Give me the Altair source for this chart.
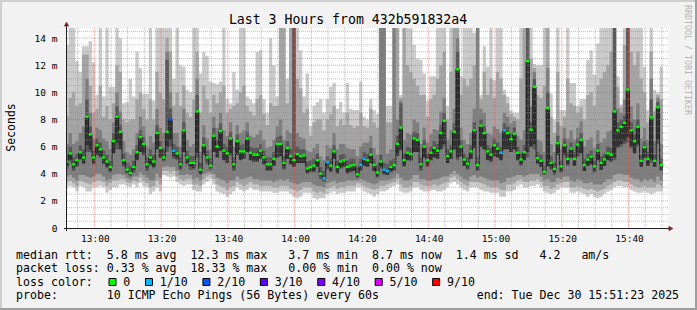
import altair as alt
import pandas as pd

# ---------------- data (milliseconds, one value per 1-minute step) ----------------
median = [
    4.9, 5.5, 4.7, 5.0, 5.6, 5.2, 8.2, 6.9, 5.2, 6.1,
    5.8, 5.2, 4.9, 4.5, 6.4, 8.2, 7.1, 5.0, 4.3, 4.05,
    4.5, 5.6, 6.7, 6.2, 4.7, 5.2, 4.9, 7.0, 5.9, 5.2,
    7.1, 8.0, 5.7, 5.5, 4.7, 7.2, 5.2, 4.8, 4.8, 8.6,
    4.3, 6.1, 5.2, 4.6, 6.8, 6.0, 7.15, 5.7, 5.5, 6.6,
    4.7, 6.4, 5.65, 5.65, 6.6, 5.55, 5.4, 5.4, 5.7, 5.2,
    4.7, 4.7, 5.1, 6.2, 6.2, 4.8, 5.9, 5.3, 5.0, 5.45,
    5.3, 5.35, 4.4, 4.5, 4.6, 5.0, 4.0, 3.65, 4.85, 4.6,
    5.65, 4.5, 4.9, 5.0, 4.5, 4.6, 4.65, 3.95, 4.65, 5.1,
    5.0, 5.4, 4.65, 4.1, 4.9, 4.3, 4.2, 4.5, 4.65, 6.2,
    7.4, 5.0, 5.55, 5.45, 6.6, 6.5, 4.7, 6.0, 5.0, 5.55,
    5.9, 5.7, 7.0, 7.9, 5.3, 5.65, 7.1, 11.7, 6.0, 5.05,
    4.75, 5.65, 7.2, 4.65, 7.55, 7.0, 5.65, 5.4, 6.1, 5.85,
    5.55, 7.2, 7.0, 6.55, 6.95, 5.55, 5.05, 5.6, 12.3, 7.25,
    10.4, 5.15, 4.95, 4.15, 8.85, 4.8, 4.35, 6.25, 4.55, 6.1,
    5.1, 5.85, 5.1, 6.15, 6.5, 4.65, 5.05, 5.25, 4.55, 5.7,
    4.8, 5.05, 5.5, 5.4, 8.6, 7.2, 7.45, 7.75, 10.2, 7.2,
    6.4, 7.45, 4.95, 5.95, 5.1, 8.15, 4.95, 8.9, 4.65,
]

# sorted pings of each step: ping1 = fastest ... ping10 = slowest (median sits between ping5 and ping7)
ping1 = [
    3.0, 3.1, 3.0, 2.7, 3.1, 3.0, 2.7, 2.7, 3.0, 3.0,
    3.1, 3.0, 2.6, 2.8, 3.0, 3.0, 3.2, 3.2, 3.1, 3.0,
    3.2, 3.0, 3.3, 3.1, 3.0, 2.5, 2.7, 3.0, 2.7, 3.9,
    3.8, 3.7, 3.8, 3.4, 3.2, 3.1, 3.2, 3.2, 2.8, 2.7,
    2.7, 3.2, 3.4, 3.6, 3.2, 2.7, 2.6, 2.5, 2.3, 2.5,
    2.7, 3.0, 2.8, 2.7, 2.8, 3.0, 2.8, 2.8, 2.7, 2.7,
    2.7, 2.7, 2.6, 2.6, 2.7, 2.7, 2.7, 2.5, 2.3, 2.2,
    2.3, 2.6, 2.6, 2.6, 2.2, 2.1, 2.2, 2.2, 2.5, 2.6,
    2.7, 2.5, 2.6, 2.6, 2.7, 2.7, 2.7, 3.0, 3.0, 2.7,
    2.6, 2.5, 2.3, 2.5, 2.7, 2.7, 2.8, 3.0, 3.1, 3.2,
    2.7, 2.6, 2.6, 2.7, 3.0, 3.0, 2.8, 2.7, 2.7, 2.75,
    2.8, 2.7, 2.7, 2.8, 3.0, 3.3, 3.4, 3.2, 3.0, 2.8,
    2.7, 3.0, 3.0, 3.0, 2.8, 2.7, 2.7, 2.6, 2.6, 2.6,
    2.3, 2.3, 2.7, 2.7, 2.8, 3.1, 3.2, 3.0, 3.0, 3.1,
    3.1, 3.2, 3.0, 2.7, 2.6, 2.5, 2.6, 2.8, 3.0, 3.0,
    3.0, 2.6, 2.6, 2.7, 2.6, 2.5, 2.3, 2.5, 2.3, 2.2,
    2.3, 2.5, 2.7, 2.8, 3.0, 3.1, 3.1, 3.0, 3.0, 2.8,
    2.7, 2.6, 2.6, 2.7, 2.6, 2.5, 2.6, 2.7, 2.7,
]
ping2 = [
    3.4, 3.5, 3.3, 3.1, 3.5, 3.4, 3.3, 3.2, 3.4, 3.5,
    3.5, 3.4, 3.1, 3.3, 3.5, 3.5, 3.6, 3.6, 3.4, 3.3,
    3.5, 3.4, 3.7, 3.5, 3.3, 3.0, 3.1, 3.5, 3.2, 4.2,
    4.2, 4.1, 4.2, 3.8, 3.6, 3.5, 3.6, 3.6, 3.2, 3.2,
    3.1, 3.6, 3.8, 3.9, 3.6, 3.2, 3.1, 3.0, 2.8, 3.0,
    3.1, 3.4, 3.2, 3.1, 3.2, 3.4, 3.2, 3.2, 3.1, 3.1,
    3.1, 3.1, 3.0, 3.0, 3.1, 3.1, 3.1, 2.9, 2.8, 2.7,
    2.8, 3.0, 3.0, 3.0, 2.7, 2.6, 2.7, 2.6, 2.9, 3.0,
    3.1, 2.9, 3.0, 3.0, 3.1, 3.1, 3.1, 3.3, 3.3, 3.1,
    3.0, 2.9, 2.8, 2.9, 3.1, 3.1, 3.2, 3.3, 3.4, 3.6,
    3.2, 3.0, 3.0, 3.1, 3.4, 3.4, 3.2, 3.1, 3.1, 3.1,
    3.2, 3.1, 3.2, 3.3, 3.4, 3.7, 3.8, 3.6, 3.4, 3.2,
    3.1, 3.4, 3.4, 3.4, 3.3, 3.2, 3.1, 3.0, 3.0, 3.0,
    2.8, 2.8, 3.2, 3.2, 3.3, 3.5, 3.6, 3.4, 3.4, 3.5,
    3.5, 3.6, 3.4, 3.1, 3.1, 2.9, 3.0, 3.2, 3.3, 3.4,
    3.4, 3.0, 3.0, 3.1, 3.0, 2.9, 2.8, 2.9, 2.8, 2.7,
    2.8, 2.9, 3.1, 3.2, 3.4, 3.5, 3.5, 3.4, 3.4, 3.2,
    3.1, 3.0, 3.0, 3.1, 3.0, 3.0, 3.0, 3.2, 3.1,
]
ping3 = [
    3.8, 3.9, 3.7, 3.5, 3.9, 3.9, 3.8, 3.7, 3.8, 4.0,
    4.0, 3.8, 3.5, 3.6, 3.9, 4.0, 4.0, 3.9, 3.7, 3.6,
    3.8, 3.8, 4.1, 3.9, 3.7, 3.5, 3.5, 4.0, 3.7, 4.5,
    4.6, 4.5, 4.5, 4.2, 3.9, 3.9, 4.0, 3.9, 3.6, 3.7,
    3.5, 4.0, 4.1, 4.1, 4.0, 3.7, 3.6, 3.5, 3.3, 3.5,
    3.5, 3.8, 3.6, 3.6, 3.7, 3.8, 3.6, 3.6, 3.5, 3.5,
    3.5, 3.5, 3.4, 3.5, 3.6, 3.5, 3.6, 3.4, 3.3, 3.2,
    3.3, 3.4, 3.4, 3.4, 3.2, 3.1, 3.1, 3.0, 3.3, 3.4,
    3.5, 3.3, 3.4, 3.4, 3.5, 3.5, 3.5, 3.5, 3.6, 3.5,
    3.4, 3.3, 3.2, 3.3, 3.5, 3.5, 3.5, 3.6, 3.7, 4.0,
    3.7, 3.5, 3.5, 3.6, 3.9, 3.9, 3.6, 3.6, 3.5, 3.5,
    3.6, 3.6, 3.7, 3.8, 3.8, 4.0, 4.2, 4.0, 3.8, 3.6,
    3.5, 3.8, 3.9, 3.7, 3.8, 3.7, 3.6, 3.5, 3.5, 3.5,
    3.3, 3.4, 3.7, 3.7, 3.8, 3.9, 3.9, 3.8, 3.9, 4.0,
    4.0, 4.0, 3.8, 3.5, 3.6, 3.4, 3.4, 3.7, 3.6, 3.8,
    3.8, 3.5, 3.4, 3.6, 3.5, 3.3, 3.3, 3.4, 3.2, 3.2,
    3.2, 3.4, 3.6, 3.6, 3.9, 4.0, 4.0, 3.9, 3.9, 3.7,
    3.6, 3.6, 3.4, 3.6, 3.5, 3.6, 3.4, 3.8, 3.5,
]
ping4 = [
    4.4, 4.9, 4.2, 4.5, 5.0, 4.7, 5.6, 5.6, 4.7, 5.4,
    5.2, 4.7, 4.4, 4.1, 5.7, 5.8, 6.0, 4.5, 4.0, 3.8,
    4.1, 5.0, 5.8, 5.6, 4.2, 4.6, 4.4, 5.9, 5.2, 4.9,
    5.6, 6.0, 5.1, 5.0, 4.3, 5.6, 4.7, 4.3, 4.3, 5.2,
    3.9, 5.5, 4.7, 4.3, 5.8, 5.4, 5.9, 5.1, 4.9, 5.6,
    4.2, 5.7, 5.1, 5.1, 5.9, 5.0, 4.9, 4.9, 5.1, 4.7,
    4.2, 4.2, 4.6, 5.5, 5.6, 4.3, 5.3, 4.8, 4.5, 4.9,
    4.8, 4.8, 4.0, 4.1, 4.1, 4.5, 3.6, 3.4, 4.3, 4.1,
    5.1, 4.0, 4.4, 4.5, 4.0, 4.1, 4.2, 3.7, 4.2, 4.6,
    4.5, 4.9, 4.2, 3.7, 4.4, 3.9, 3.9, 4.1, 4.2, 5.3,
    5.7, 4.5, 5.0, 4.9, 5.8, 5.8, 4.2, 5.3, 4.5, 5.0,
    5.3, 5.1, 5.8, 6.0, 4.8, 5.1, 5.8, 5.0, 5.4, 4.6,
    4.3, 5.1, 5.9, 4.2, 6.0, 5.8, 5.1, 4.9, 5.5, 5.3,
    5.0, 5.8, 5.8, 5.6, 5.8, 5.0, 4.6, 5.1, 5.2, 6.0,
    5.8, 4.7, 4.5, 3.9, 4.5, 4.3, 3.9, 5.5, 4.1, 5.5,
    4.6, 5.3, 4.6, 5.5, 5.8, 4.2, 4.6, 4.7, 4.1, 5.1,
    4.3, 4.6, 5.0, 4.9, 5.0, 5.9, 6.0, 6.2, 6.3, 5.9,
    5.7, 6.0, 4.5, 5.3, 4.6, 4.8, 4.5, 6.2, 4.2,
]
ping5 = [
    4.6, 5.0, 4.4, 4.6, 5.1, 4.8, 6.1, 5.8, 4.8, 5.4,
    5.3, 4.8, 4.5, 4.2, 5.5, 6.3, 5.8, 4.7, 4.1, 3.9,
    4.3, 5.0, 5.6, 5.4, 4.4, 4.7, 4.5, 5.8, 5.2, 5.0,
    6.0, 6.5, 5.3, 5.1, 4.4, 5.6, 4.8, 4.5, 4.4, 5.5,
    4.0, 5.4, 4.9, 4.4, 5.6, 5.2, 5.7, 5.0, 4.8, 5.4,
    4.4, 5.4, 5.0, 5.1, 5.6, 5.0, 4.9, 4.9, 5.1, 4.7,
    4.3, 4.3, 4.6, 5.2, 5.3, 4.4, 5.1, 4.7, 4.5, 4.8,
    4.8, 4.8, 4.1, 4.2, 4.2, 4.5, 3.8, 3.5, 4.4, 4.2,
    5.1, 4.1, 4.4, 4.5, 4.1, 4.2, 4.2, 3.8, 4.3, 4.6,
    4.5, 4.8, 4.2, 3.8, 4.5, 4.0, 3.9, 4.2, 4.3, 5.4,
    5.8, 4.6, 5.0, 5.0, 5.6, 5.6, 4.4, 5.2, 4.6, 5.0,
    5.2, 5.1, 5.8, 6.2, 4.8, 5.1, 5.8, 5.2, 5.3, 4.6,
    4.4, 5.1, 5.9, 4.3, 6.0, 5.8, 5.0, 4.9, 5.3, 5.2,
    5.0, 5.8, 5.8, 5.6, 5.8, 5.0, 4.7, 5.0, 5.6, 6.0,
    6.2, 4.8, 4.5, 4.0, 4.6, 4.4, 4.1, 5.4, 4.2, 5.4,
    4.7, 5.2, 4.6, 5.3, 5.5, 4.2, 4.6, 4.7, 4.2, 5.0,
    4.3, 4.6, 5.0, 4.9, 5.2, 6.0, 6.2, 6.4, 6.7, 6.0,
    5.5, 6.2, 4.5, 5.2, 4.6, 5.0, 4.5, 6.5, 4.3,
]
ping7 = [
    5.4, 6.0, 5.2, 5.5, 6.1, 5.8, 9.5, 7.5, 5.7, 6.6,
    6.3, 5.7, 5.4, 5.0, 7.0, 9.0, 7.6, 5.5, 4.8, 4.6,
    5.0, 6.1, 7.2, 6.7, 5.2, 5.8, 5.4, 7.6, 6.4, 5.8,
    12.4, 8.8, 6.2, 6.0, 5.2, 7.8, 5.7, 5.3, 5.3, 9.8,
    4.8, 6.7, 5.7, 5.1, 7.4, 6.5, 7.7, 6.2, 6.0, 7.1,
    5.2, 6.9, 6.1, 6.2, 7.1, 6.0, 5.9, 5.9, 6.2, 5.7,
    5.2, 5.2, 5.6, 6.7, 6.8, 5.3, 6.4, 5.8, 14.75, 6.0,
    5.8, 5.8, 4.9, 5.0, 5.1, 5.5, 4.5, 4.2, 5.3, 5.1,
    6.1, 5.0, 5.4, 5.5, 5.0, 5.1, 5.1, 4.5, 5.1, 5.6,
    5.5, 5.9, 5.1, 4.6, 5.4, 4.8, 4.7, 5.0, 5.1, 6.8,
    9.2, 5.5, 6.0, 5.9, 7.1, 7.0, 5.2, 6.5, 5.5, 6.0,
    6.4, 6.2, 7.6, 8.5, 5.8, 6.1, 7.7, 13.0, 6.5, 5.5,
    5.2, 6.1, 7.8, 5.2, 8.0, 7.5, 6.1, 5.9, 6.6, 6.3,
    6.0, 7.7, 7.5, 7.0, 7.4, 6.0, 5.5, 6.1, 14.75, 7.8,
    11.0, 5.6, 5.4, 4.6, 10.0, 5.3, 4.8, 6.8, 5.0, 6.6,
    5.6, 6.3, 5.6, 6.6, 7.0, 5.1, 5.5, 5.7, 5.0, 6.2,
    5.3, 5.5, 6.0, 5.9, 14.75, 7.8, 8.0, 8.3, 14.75, 7.8,
    6.9, 8.0, 5.4, 6.4, 5.6, 9.5, 5.4, 9.3, 5.1,
]
ping8 = [
    6.2, 7.0, 6.2, 6.4, 7.0, 7.5, 11.0, 8.5, 6.6, 7.4,
    7.2, 6.6, 6.4, 5.8, 7.8, 10.0, 8.6, 6.4, 5.6, 5.4,
    5.8, 7.0, 8.2, 7.5, 6.0, 6.8, 6.3, 8.8, 7.4, 7.0,
    13.0, 10.0, 7.0, 7.0, 6.0, 8.8, 6.5, 6.0, 6.2, 11.0,
    5.6, 7.6, 6.6, 5.8, 8.2, 7.4, 8.5, 7.2, 6.8, 7.8,
    6.0, 7.6, 7.0, 7.2, 7.8, 6.8, 6.7, 6.9, 7.2, 6.5,
    5.9, 6.0, 6.5, 7.5, 8.0, 6.5, 7.2, 7.0, 14.75, 7.0,
    6.7, 6.6, 5.7, 5.6, 5.9, 6.2, 5.3, 5.0, 6.1, 5.9,
    7.0, 5.8, 6.2, 6.2, 5.9, 5.8, 5.8, 5.3, 6.0, 6.3,
    6.3, 6.8, 5.9, 5.4, 14.75, 14.75, 5.5, 5.8, 14.75, 8.0,
    9.4, 6.5, 7.0, 6.9, 8.0, 7.8, 6.2, 7.4, 6.3, 6.9,
    7.3, 7.2, 8.6, 9.6, 6.5, 7.2, 8.8, 14.0, 7.4, 6.5,
    6.2, 7.0, 8.8, 14.75, 8.8, 8.5, 7.0, 6.9, 7.5, 7.3,
    7.0, 8.5, 8.2, 7.7, 7.9, 6.8, 6.5, 7.2, 14.75, 9.0,
    11.5, 6.5, 6.4, 5.6, 11.8, 6.2, 5.6, 7.8, 5.8, 7.4,
    6.6, 7.2, 6.5, 7.4, 7.9, 6.0, 6.5, 6.7, 5.9, 7.2,
    6.3, 6.6, 7.1, 7.2, 14.75, 8.8, 8.5, 9.5, 14.75, 9.0,
    8.0, 9.2, 6.6, 7.4, 6.5, 11.0, 6.4, 9.6, 6.2,
]
ping9 = [
    8.3, 9.6, 10.0, 9.0, 9.2, 12.8, 12.8, 10.5, 8.5, 8.8,
    10.5, 8.2, 9.0, 8.0, 9.2, 12.0, 11.5, 8.0, 7.8, 8.0,
    8.0, 9.5, 10.0, 8.8, 8.0, 9.5, 8.0, 11.5, 10.0, 9.5,
    14.0, 13.0, 9.0, 10.0, 9.0, 10.5, 8.5, 8.2, 9.5, 13.0,
    8.5, 10.5, 9.5, 8.5, 9.8, 9.2, 10.0, 10.5, 8.5, 8.8,
    9.0, 9.2, 10.0, 10.5, 9.0, 8.6, 8.3, 9.5, 9.8, 8.4,
    7.6, 9.2, 9.0, 9.0, 14.75, 14.75, 9.2, 14.75, 14.75, 11.0,
    10.3, 8.5, 8.8, 6.8, 7.8, 8.0, 8.0, 7.2, 8.0, 8.4,
    9.0, 7.5, 8.0, 7.6, 8.5, 7.6, 7.4, 7.5, 8.5, 7.5,
    7.4, 8.8, 7.8, 7.4, 14.75, 14.75, 7.8, 7.8, 14.75, 14.75,
    9.6, 14.75, 12.0, 11.5, 11.0, 10.5, 9.8, 9.8, 8.2, 9.5,
    9.8, 11.0, 12.0, 13.0, 8.0, 11.5, 14.75, 14.75, 9.8, 11.0,
    10.5, 11.0, 12.0, 14.75, 9.5, 11.5, 9.8, 11.0, 9.6, 11.5,
    11.0, 9.8, 9.2, 8.4, 8.2, 8.0, 11.0, 14.75, 14.75, 12.5,
    11.8, 9.8, 9.6, 10.5, 14.75, 8.2, 7.0, 11.5, 7.5, 8.2,
    11.0, 9.2, 9.0, 8.5, 8.9, 8.0, 9.8, 10.0, 9.0, 10.5,
    11.0, 11.5, 12.0, 13.0, 14.75, 10.4, 8.9, 13.5, 14.75, 13.0,
    12.0, 13.0, 11.0, 10.0, 7.8, 13.0, 8.6, 9.8, 9.5,
]
ping10 = [
    13.5, 14.75, 14.75, 12.3, 11.5, 13.4, 13.4, 13.8, 12.2, 9.8,
    14.75, 9.7, 14.75, 10.4, 10.4, 14.75, 14.0, 9.2, 9.3, 11.0,
    9.7, 13.0, 11.8, 9.9, 9.9, 14.75, 9.4, 14.75, 14.75, 14.75,
    14.75, 14.75, 11.0, 14.75, 12.0, 11.9, 10.2, 10.0, 14.75, 14.75,
    11.4, 13.0, 12.7, 10.8, 10.7, 10.6, 10.8, 14.75, 9.5, 9.2,
    11.5, 10.2, 14.75, 14.75, 9.7, 9.5, 9.2, 13.0, 13.1, 9.5,
    8.5, 14.0, 12.0, 9.7, 14.75, 14.75, 11.0, 14.75, 14.75, 14.75,
    13.1, 9.7, 11.4, 7.5, 9.0, 9.3, 9.5, 8.5, 9.5, 10.4,
    10.7, 8.8, 9.3, 8.5, 10.7, 8.8, 8.7, 8.7, 10.8, 8.2,
    8.0, 9.5, 8.7, 8.4, 14.75, 14.75, 9.0, 9.0, 14.75, 14.75,
    9.8, 14.75, 14.75, 14.7, 13.5, 12.5, 12.4, 11.4, 9.4, 11.2,
    11.2, 14.75, 14.75, 14.75, 9.0, 14.75, 14.75, 14.75, 11.2, 14.75,
    14.75, 14.75, 14.4, 14.75, 9.8, 13.4, 11.9, 14.75, 10.9, 14.75,
    14.75, 10.2, 9.7, 8.7, 8.5, 8.5, 14.75, 14.75, 14.75, 14.75,
    12.1, 12.0, 12.0, 14.75, 14.75, 9.9, 8.0, 14.75, 8.7, 8.7,
    14.75, 10.7, 10.7, 9.0, 9.5, 9.5, 12.4, 13.1, 11.3, 13.6,
    14.75, 14.75, 14.75, 14.75, 14.75, 11.2, 9.1, 14.75, 14.75, 14.75,
    14.75, 14.75, 14.75, 11.9, 8.7, 14.75, 10.2, 10.0, 11.9,
]

# packet loss (lost pings out of 10) for the steps that had any
loss_steps = [31, 32, 77, 78, 88, 89, 95, 96, 130, 131]
loss_counts = [2, 1, 1, 1, 1, 1, 1, 1, 1, 1]

loss_legend_labels = ["0", "1/10", "2/10", "3/10", "4/10", "5/10", "9/10"]
loss_legend_colors = ["#00ff00", "#00b8ff", "#0059ff", "#5e00ff", "#7e00ff", "#dd00ff", "#ff0000"]
loss_color_of = {0: "#00ff00", 1: "#00b8ff", 2: "#0059ff", 3: "#5e00ff", 4: "#7e00ff", 5: "#dd00ff", 9: "#ff0000"}

y_tick_values = [0, 2, 4, 6, 8, 10, 12, 14]
x_tick_values = [60, 80, 100, 120, 140, 160, 180, 200, 220]   # minutes after 12:00
x_tick_labels = ["13:00", "13:20", "13:40", "14:00", "14:20", "14:40", "15:00", "15:20", "15:40"]

TITLE = "Last 3 Hours from 432b591832a4"
LEGEND_1 = "median rtt:  5.8 ms avg  12.3 ms max   3.7 ms min  8.7 ms now  1.4 ms sd   4.2   am/s"
LEGEND_2 = "packet loss: 0.33 % avg  18.33 % max   0.00 % min  0.00 % now"
LEGEND_3 = "loss color:"
LEGEND_4 = "probe:       10 ICMP Echo Pings (56 Bytes) every 60s              end: Tue Dec 30 15:51:23 2025"
WATERMARK = "RRDTOOL / TOBI OETIKER"
Y_TITLE = "Seconds"

arrays = [median, ping1, ping2, ping3, ping4, ping5, ping7, ping8, ping9, ping10]
n = len(median)
for a in arrays:
    assert len(a) == n, len(a)

# ---------------- layout ----------------
W, H = 601, 200
PAD = {"left": 67, "top": 28, "right": 29, "bottom": 82}
MONO = "DejaVu Sans Mono"
xs = alt.Scale(domain=[51.82, 231.82], nice=False, zero=False)
ys = alt.Scale(domain=[0, 14.75], nice=False, zero=False)
FIRST = 51.3
steps = [FIRST + i for i in range(n)]

one = pd.DataFrame({"k": [0]})

layers = []

# smoke bands (outer -> inner)
bands = [
    (ping1, ping10, "#cacaca"),
    (ping2, ping9, "#a4a4a4"),
    (ping3, ping8, "#7e7e7e"),
    (ping4, ping7, "#585858"),
    (ping5, median, "#323232"),
]
for lo, hi, col in bands:
    df = pd.DataFrame({"t": steps + [FIRST + n], "lo": lo + [lo[-1]], "hi": hi + [hi[-1]]})
    layers.append(
        alt.Chart(df).mark_area(interpolate="step-after", color=col, opacity=1, clip=True).encode(
            x=alt.X("t:Q", scale=xs, axis=None),
            y=alt.Y("lo:Q", scale=ys, axis=None, stack=None),
            y2="hi:Q",
        )
    )

# median line
med_df = pd.DataFrame({"t": steps + [FIRST + n], "m": median + [median[-1]]})
layers.append(
    alt.Chart(med_df).mark_line(interpolate="step-after", color="#202020", strokeWidth=1, clip=True).encode(
        x=alt.X("t:Q", scale=xs, axis=None),
        y=alt.Y("m:Q", scale=ys, axis=None),
    )
)

# grid (drawn over the graph, as rrdtool does)
minor_y = [v / 2 for v in range(1, 30) if v % 4 != 0]
major_y = [v for v in range(2, 15, 2)]
minor_x = [m for m in range(55, 232, 5) if m % 20 != 0]
major_x = list(x_tick_values)
GRID = "rgba(143,143,143,0.6)"
MGRID = "rgba(222,79,79,0.55)"
layers.append(alt.Chart(pd.DataFrame({"v": minor_y})).mark_rule(color=GRID, strokeDash=[1, 1], strokeWidth=1).encode(
    y=alt.Y("v:Q", scale=ys, axis=None), x=alt.value(0), x2=alt.value(W)))
layers.append(alt.Chart(pd.DataFrame({"v": minor_x})).mark_rule(color=GRID, strokeDash=[1, 1], strokeWidth=1).encode(
    x=alt.X("v:Q", scale=xs, axis=None), y=alt.value(0), y2=alt.value(H)))
layers.append(alt.Chart(pd.DataFrame({"v": major_y})).mark_rule(color=MGRID, strokeDash=[1, 1], strokeWidth=1).encode(
    y=alt.Y("v:Q", scale=ys, axis=None), x=alt.value(0), x2=alt.value(W)))
layers.append(alt.Chart(pd.DataFrame({"v": major_x})).mark_rule(color=MGRID, strokeDash=[1, 1], strokeWidth=1).encode(
    x=alt.X("v:Q", scale=xs, axis=None), y=alt.value(0), y2=alt.value(H)))

# loss-coloured median marks
loss = [0] * n
for s, c in zip(loss_steps, loss_counts):
    loss[s] = c
mk = pd.DataFrame({
    "t": steps,
    "t2": [s + 1 for s in steps],
    "a": [m - 0.085 for m in median],
    "b": [m + 0.085 for m in median],
    "c": [loss_color_of[l] for l in loss],
})
layers.append(
    alt.Chart(mk).mark_rect(clip=True).encode(
        x=alt.X("t:Q", scale=xs, axis=None), x2="t2:Q",
        y=alt.Y("a:Q", scale=ys, axis=None), y2="b:Q",
        color=alt.Color("c:N", scale=None),
    )
)

# axes lines and arrows
AXIS = "#1f1f1f"
ARROW = "#801f1f"
layers.append(alt.Chart(one).mark_rule(color=AXIS, strokeWidth=1).encode(
    x=alt.value(-3), x2=alt.value(602), y=alt.value(200.5)))
layers.append(alt.Chart(one).mark_rule(color=AXIS, strokeWidth=1).encode(
    x=alt.value(-0.5), y=alt.value(203), y2=alt.value(-2)))
layers.append(alt.Chart(one).mark_point(shape="triangle-up", filled=True, color=ARROW, size=30, opacity=1).encode(
    x=alt.value(-0.5), y=alt.value(-4)))
layers.append(alt.Chart(one).mark_point(shape="triangle-right", filled=True, color=ARROW, size=30, opacity=1).encode(
    x=alt.value(604), y=alt.value(200.5)))

# tick labels
NB = "\u00a0"
ylab = pd.DataFrame({"v": y_tick_values,
                     "s": [("0" + NB + NB) if v == 0 else f"{v}{NB}m" for v in y_tick_values]})
layers.append(alt.Chart(ylab).mark_text(align="right", baseline="alphabetic", dy=3.5, font=MONO,
                                        fontSize=9.5, color="black").encode(
    y=alt.Y("v:Q", scale=ys, axis=None), x=alt.value(-9.5), text="s:N"))
xlab = pd.DataFrame({"v": x_tick_values, "s": x_tick_labels})
layers.append(alt.Chart(xlab).mark_text(align="center", baseline="alphabetic", dx=1, font=MONO,
                                        fontSize=9.5, color="black").encode(
    x=alt.X("v:Q", scale=xs, axis=None), y=alt.value(213.7), text="s:N"))

def txt(s, x, y, size, align="left", angle=0, color="black", baseline="alphabetic"):
    return alt.Chart(one).mark_text(align=align, baseline=baseline, font=MONO, fontSize=size,
                                    color=color, angle=angle).encode(
        x=alt.value(x), y=alt.value(y), text=alt.value(s.replace(" ", NB)))

layers.append(txt(TITLE, 281, -4, 13.2, align="center"))
layers.append(txt(Y_TITLE, -52.3, 99.5, 11.5, align="center", angle=270))
layers.append(txt(WATERMARK, 620.3, -23, 8.3, angle=90, color="#b4b4b4", baseline="middle"))
layers.append(txt(LEGEND_1, -51, 231, 11.6))
layers.append(txt(LEGEND_2, -51, 244.4, 11.6))
layers.append(txt(LEGEND_3, -51, 257.8, 11.6))
layers.append(txt(LEGEND_4, -51, 271.2, 11.6))

# loss colour legend boxes
CH = 0.602 * 11.6
bx = 42.0
for lab, col in zip(loss_legend_labels, loss_legend_colors):
    layers.append(alt.Chart(one).mark_rect(color=col, stroke="black", strokeWidth=1).encode(
        x=alt.value(bx), x2=alt.value(bx + 7), y=alt.value(250.5), y2=alt.value(257.5)))
    layers.append(txt(lab, bx + 14.3, 257.8, 11.6))
    bx = bx + 14.3 + len(lab) * CH + 15.2

# 3D frame
SHADE_A = "#cfcfcf"
SHADE_B = "#9e9e9e"
layers.append(alt.Chart(one).mark_rule(color=SHADE_A, strokeWidth=2).encode(
    x=alt.value(-67), x2=alt.value(630), y=alt.value(-27)))
layers.append(alt.Chart(one).mark_rule(color=SHADE_A, strokeWidth=2).encode(
    x=alt.value(-66), y=alt.value(-28), y2=alt.value(282)))
layers.append(alt.Chart(one).mark_rule(color=SHADE_B, strokeWidth=2).encode(
    x=alt.value(-67), x2=alt.value(630), y=alt.value(281)))
layers.append(alt.Chart(one).mark_rule(color=SHADE_B, strokeWidth=2).encode(
    x=alt.value(629), y=alt.value(-28), y2=alt.value(282)))

chart = alt.layer(*layers).properties(
    width=W, height=H, padding=PAD, autosize=alt.AutoSizeParams(type="none")
).configure(background="#f2f2f2").configure_view(fill="white", stroke="transparent")

chart.save("out.html", embed_options={"renderer": "svg", "actions": False})
